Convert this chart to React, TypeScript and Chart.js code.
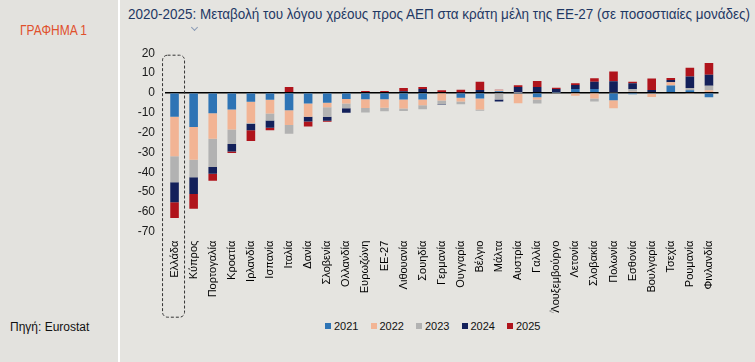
import React, { useEffect, useLayoutEffect, useRef } from "react";
import { Chart, registerables } from "chart.js";

Chart.register(...registerables);

const categories = [
  "Ελλάδα", "Κύπρος", "Πορτογαλία", "Κροατία", "Ιρλανδία", "Ισπανία", "Ιταλία", "Δανία",
  "Σλοβενία", "Ολλανδία", "Ευρωζώνη", "ΕΕ-27", "Λιθουανία", "Σουηδία", "Γερμανία", "Ουγγαρία",
  "Βέλγιο", "Μάλτα", "Αυστρία", "Γαλλία", "Λουξεμβούργο", "Λετονία", "Σλοβακία", "Πολωνία",
  "Εσθονία", "Βουλγαρία", "Τσεχία", "Ρουμανία", "Φινλανδία",
];

const y2021 = [-12.1, -17.2, -10.3, -8.4, -4.5, -3.5, -8.8, -5.4, -5.0, -3.1, -3.2, -3.2, -3.3, -3.3, 0, -2.5, -2.9, 0.8, -0.4, -2.2, 0.2, 1.9, 2.0, -3.7, -0.7, -0.5, 3.7, 1.3, -2.2];
const y2022 = [-19.9, -16.5, -12.8, -10.1, -10.7, -6.9, -7.4, -6.6, -2.2, -2.3, -4.4, -4.3, -4.6, -2.9, -3.8, -1.8, -5.5, 0.5, -4.8, -1.2, 0.3, -1.4, -2.8, -4.0, 0.6, -1.6, 1.7, -0.5, 1.3];
const y2023 = [-13.1, -8.9, -14.3, -7.3, -0.4, -3.5, -4.4, 0, -4.9, -2.4, -2.3, -1.8, -1.3, -2.1, -2.0, -1.5, -0.6, -3.4, 0.1, -1.9, -0.5, 0, -1.5, 0.3, 1.2, 0.4, 0, 1.2, 2.3];
const y2024 = [-10.1, -8.4, -3.4, -3.7, -3.3, -3.7, 0, -2.4, -1.9, -2.2, 0.4, 0.4, 0.8, 2.0, -0.2, 0.3, 1.5, -1.0, 2.8, 2.9, 1.5, 2.1, 3.6, 5.5, 3.0, 1.0, 1.1, 5.7, 5.5];
const y2025 = [-7.9, -7.4, -3.5, -0.8, -5.4, -1.2, 3.0, -2.5, -0.6, 0, 0.5, 0.5, 1.7, 1.0, 1.3, 1.3, 4.1, 0.3, 0.9, 3.1, 0.6, 0.8, 1.8, 5.0, 0.8, 5.9, 1.0, 4.5, 6.0];

const seriesLabels = ["2021", "2022", "2023", "2024", "2025"];
const seriesColors = ["#2e74b5", "#f2b494", "#b2b2b2", "#13205a", "#b0141c"];
const seriesValues = [y2021, y2022, y2023, y2024, y2025];

const yMin = -70;
const yMax = 20;
const yStep = 10;

const titleText = "2020-2025: Μεταβολή του λόγου χρέους προς ΑΕΠ στα κράτη μέλη της ΕΕ-27 (σε ποσοστιαίες μονάδες)";
const figureLabel = "ΓΡΑΦΗΜΑ 1";
const sourceText = "Πηγή: Eurostat";

const highlightPlugin = {
  id: "highlightBox",
  afterDraw(chart: any) {
    const { ctx, scales, chartArea } = chart;
    const x = scales.x.getPixelForValue(0);
    const left = x - 12.5;
    const w = 22;
    const top = chartArea.top + 1.5;
    const h = chartArea.bottom + 85 - top;
    ctx.save();
    ctx.strokeStyle = "#333";
    ctx.lineWidth = 1;
    ctx.setLineDash([3, 2]);
    ctx.beginPath();
    if (ctx.roundRect) ctx.roundRect(left + 0.5, top + 0.5, w, h, 5);
    else ctx.rect(left + 0.5, top + 0.5, w, h);
    ctx.stroke();
    ctx.restore();
  },
};

function FitText(props: { text: string; width: number; style: any }) {
  const r = useRef<HTMLSpanElement | null>(null);
  useLayoutEffect(() => {
    const el = r.current;
    if (!el) return;
    el.style.transform = "none";
    const w = el.getBoundingClientRect().width;
    if (w > 0) el.style.transform = `scaleX(${props.width / w})`;
  }, [props.text, props.width]);
  return (
    <span
      ref={r}
      style={{ ...props.style, display: "inline-block", whiteSpace: "nowrap", transformOrigin: "0 50%" }}
    >
      {props.text}
    </span>
  );
}

export default function App() {
  const ref = useRef<HTMLCanvasElement | null>(null);

  useEffect(() => {
    if (!ref.current) return;
    const chart = new Chart(ref.current, {
      type: "bar",
      data: {
        labels: categories,
        datasets: seriesLabels.map((l, i) => ({
          label: l,
          data: seriesValues[i],
          backgroundColor: seriesColors[i],
          borderWidth: 0,
          barPercentage: 0.45,
          categoryPercentage: 1,
        })),
      },
      options: {
        animation: false,
        responsive: false,
        maintainAspectRatio: false,
        layout: { padding: { left: 0, right: 21.5, top: 13.3, bottom: 0 } },
        plugins: {
          legend: { display: false },
          tooltip: { enabled: false },
          title: { display: false },
        },
        scales: {
          x: {
            stacked: true,
            grid: { display: false, drawTicks: false },
            border: { display: false },
            ticks: {
              autoSkip: false,
              maxRotation: 90,
              minRotation: 90,
              padding: 9,
              color: "#000",
              font: { family: "'Liberation Sans', Arial, sans-serif", size: 11 },
            },
            afterFit: (s: any) => {
              s.height = 86.3;
            },
          },
          y: {
            stacked: true,
            min: yMin,
            max: yMax,
            grid: {
              drawTicks: false,
              color: (c: any) => (c.tick && c.tick.value === 0 ? "#000" : "rgba(0,0,0,0)"),
              lineWidth: (c: any) => (c.tick && c.tick.value === 0 ? 1.5 : 0),
            },
            border: { display: false },
            ticks: {
              stepSize: yStep,
              padding: 10,
              color: "#1a1a1a",
              font: { family: "'Liberation Sans', Arial, sans-serif", size: 12 },
            },
            afterFit: (s: any) => {
              s.width = 45;
            },
          },
        },
      },
      plugins: [highlightPlugin],
    });
    return () => chart.destroy();
  }, []);

  return (
    <div
      style={{
        position: "fixed",
        left: 0,
        top: 0,
        width: 755,
        height: 362,
        background: "#e5e4e0",
        overflow: "hidden",
        fontFamily: "'Liberation Sans', Arial, sans-serif",
      }}
    >
      <div style={{ position: "absolute", left: 0, top: 0, width: 118, height: 362, background: "#e3e2de" }} />
      <div style={{ position: "absolute", left: 118, top: 0, width: 2, height: 362, background: "#ffffff" }} />
      <div style={{ position: "absolute", left: 20, top: 22, lineHeight: "16px" }}>
        <FitText text={figureLabel} width={67} style={{ fontSize: 14, color: "#e0502c" }} />
      </div>
      <div
        style={{
          position: "absolute",
          left: 10,
          top: 320,
          fontSize: 12,
          color: "#111",
          whiteSpace: "nowrap",
        }}
      >
        {sourceText}
      </div>
      <div style={{ position: "absolute", left: 128, top: 6, lineHeight: "16px" }}>
        <FitText text={titleText} width={622} style={{ fontSize: 14, color: "#1f3864" }} />
      </div>
      <div
        style={{
          position: "absolute",
          left: 192,
          top: 25,
          width: 4,
          height: 4,
          borderRight: "1px solid #8a9bb5",
          borderBottom: "1px solid #8a9bb5",
          transform: "rotate(45deg)",
        }}
      />
      <canvas
        ref={ref}
        width={620}
        height={282}
        style={{ position: "absolute", left: 120, top: 36, width: 620, height: 282 }}
      />
      <div
        style={{
          position: "absolute",
          left: 325,
          top: 320,
          display: "flex",
          alignItems: "center",
          fontSize: 11,
          color: "#111",
          whiteSpace: "nowrap",
        }}
      >
        {seriesLabels.map((l, i) => (
          <div key={l} style={{ display: "flex", alignItems: "center", width: 45.5 }}>
            <span
              style={{
                display: "inline-block",
                width: 6,
                height: 6,
                background: seriesColors[i],
                marginRight: 3,
              }}
            />
            <span>{l}</span>
          </div>
        ))}
      </div>
      <div style={{ position: "absolute", left: 549, top: 306, fontSize: 9, color: "#999" }}>&lt;</div>
    </div>
  );
}
